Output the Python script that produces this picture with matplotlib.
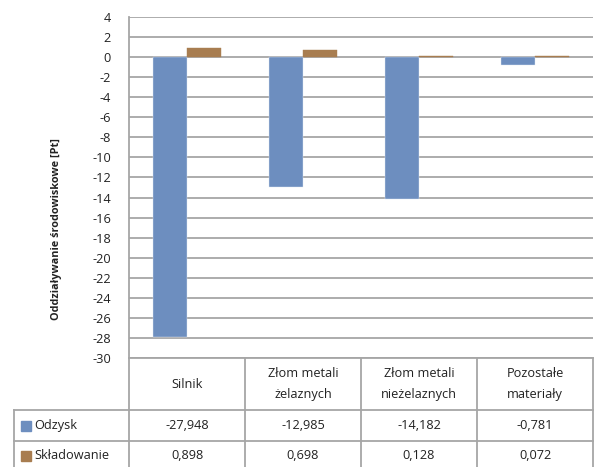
import matplotlib
matplotlib.use("Agg")
import matplotlib.pyplot as plt
import matplotlib.transforms as mtransforms
from matplotlib.patches import Rectangle

# data
categories = ["Silnik", "Złom metali\nżelaznych", "Złom metali\nnieżelaznych", "Pozostałe\nmateriały"]
series_names = ["Odzysk", "Składowanie"]
odzysk = [-27.948, -12.985, -14.182, -0.781]
skladowanie = [0.898, 0.698, 0.128, 0.072]
y_ticks = list(range(-30, 5, 2))

colors = ["#6d8ebf", "#a87d50"]
grid_col = "#a6a6a6"
fs = 9.2

plt.rcParams["font.family"] = ["Open Sans", "DejaVu Sans"]
plt.rcParams["axes.unicode_minus"] = False

W, H = 596, 467
fig = plt.figure(figsize=(W / 100, H / 100), dpi=100)


def fy(py):
    # pixel row from top -> figure fraction
    return 1 - py / H


ax_left, ax_right, ax_top, ax_bottom = 129, 593, 17, 358
ax = fig.add_axes([ax_left / W, fy(ax_bottom), (ax_right - ax_left) / W, (ax_bottom - ax_top) / H])

n = len(categories)
xs = list(range(n))
bw = 0.29
ax.bar([x - bw / 2 for x in xs], odzysk, bw, color=colors[0], edgecolor="#dfe7f2", linewidth=0.3, zorder=3)
ax.bar([x + bw / 2 for x in xs], skladowanie, bw, color=colors[1], edgecolor=colors[1], linewidth=0.3, zorder=3)

ax.set_xlim(-0.5, n - 0.5)
ax.set_ylim(-30, 4)
ax.set_yticks(y_ticks)
ax.set_yticklabels([str(t) for t in y_ticks], fontsize=fs, color="#222222")
ax.tick_params(axis="y", length=0, pad=13)
ax.set_xticks([])
for t in y_ticks:
    ax.axhline(t, color=grid_col, lw=1.3, zorder=1)
for s in ["right", "bottom", "top"]:
    ax.spines[s].set_visible(False)
ax.spines["left"].set_color(grid_col)
ax.spines["left"].set_linewidth(1.3)

fig.text(57 / W, fy(229), "Oddziaływanie środowiskowe [Pt]", rotation=90,
         ha="center", va="center", fontsize=7.8, fontweight="bold", color="#222222")

# data table under the plot: x in data units, y in figure fraction
trans = mtransforms.blended_transform_factory(ax.transData, fig.transFigure)
line_kw = dict(color=grid_col, lw=1.3, clip_on=False)
row_hdr, row1, row2, row_end = ax_bottom, 410, 441, 470
legend_left = 14

# horizontal lines
ax.plot([-0.5, n - 0.5], [fy(row_hdr)] * 2, transform=trans, **line_kw)
for r in [row1, row2]:
    fig.add_artist(plt.Line2D([legend_left / W, ax_right / W], [fy(r)] * 2, **line_kw))
fig.add_artist(plt.Line2D([legend_left / W, legend_left / W], [fy(row1), fy(row_end)], **line_kw))
# vertical lines between categories
for i in range(n + 1):
    ax.plot([i - 0.5, i - 0.5], [fy(row_hdr), fy(row_end)], transform=trans, **line_kw)

txt_kw = dict(transform=trans, ha="center", va="center", fontsize=fs, color="#222222")
for i, c in enumerate(categories):
    ax.text(i, fy((row_hdr + row1) / 2), c, linespacing=1.85, **txt_kw)
    ax.text(i, fy((row1 + row2) / 2), f"{odzysk[i]:.3f}".replace(".", ","), **txt_kw)
    ax.text(i, fy((row2 + row_end) / 2), f"{skladowanie[i]:.3f}".replace(".", ","), **txt_kw)

# legend keys in first column
for name, col, (top, bot) in zip(series_names, colors, [(row1, row2), (row2, row_end)]):
    cy = (top + bot) / 2
    fig.add_artist(Rectangle((21 / W, fy(cy + 5)), 10 / W, 10 / H, color=col))
    fig.text(34 / W, fy(cy), name, ha="left", va="center", fontsize=fs, color="#222222")

fig.savefig("out.png", dpi=100)
